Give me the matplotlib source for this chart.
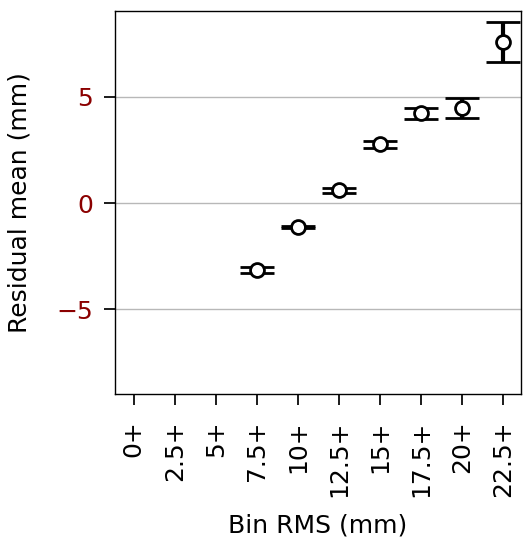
import matplotlib
matplotlib.use("Agg")
import matplotlib.pyplot as plt
import numpy as np

categories = ["0+", "2.5+", "5+", "7.5+", "10+", "12.5+", "15+", "17.5+", "20+", "22.5+"]
means = [np.nan, np.nan, np.nan, -3.16, -1.13, 0.61, 2.76, 4.22, 4.48, 7.58]
errors = [np.nan, np.nan, np.nan, 0.14, 0.05, 0.12, 0.17, 0.24, 0.45, 0.95]
yticks = [-5, 0, 5]

fig = plt.figure(figsize=(5.23, 5.44), dpi=100)
ax = fig.add_axes([115 / 523, 150 / 544, 406 / 523, 383 / 544])

x = np.arange(len(categories))
ax.errorbar(x, means, yerr=errors, fmt="o", color="black", ecolor="black",
            elinewidth=3, capsize=12.5, capthick=2.5, markersize=10,
            markerfacecolor="white", markeredgecolor="black", markeredgewidth=2,
            zorder=3)

ax.set_xlim(-0.46, 9.44)
ax.set_ylim(-9.0, 9.05)
ax.set_xticks(x)
ax.set_xticklabels(categories, rotation=90, fontsize=18)
ax.set_yticks(yticks)
ax.set_yticklabels([f"{v}".replace("-", "\u2212") for v in yticks], fontsize=18, color="#8b0000")
ax.yaxis.grid(True, color="#b8b8b8", linewidth=1)
ax.set_axisbelow(True)
ax.tick_params(axis="both", length=8, width=1.25)
ax.tick_params(axis="x", pad=11)
ax.tick_params(axis="y", pad=8)
ax.set_xlabel("Bin RMS (mm)", fontsize=18, labelpad=12)
ax.set_ylabel("Residual mean (mm)", fontsize=18, labelpad=18)
for s in ax.spines.values():
    s.set_linewidth(1)

fig.savefig("out.png", dpi=100)
